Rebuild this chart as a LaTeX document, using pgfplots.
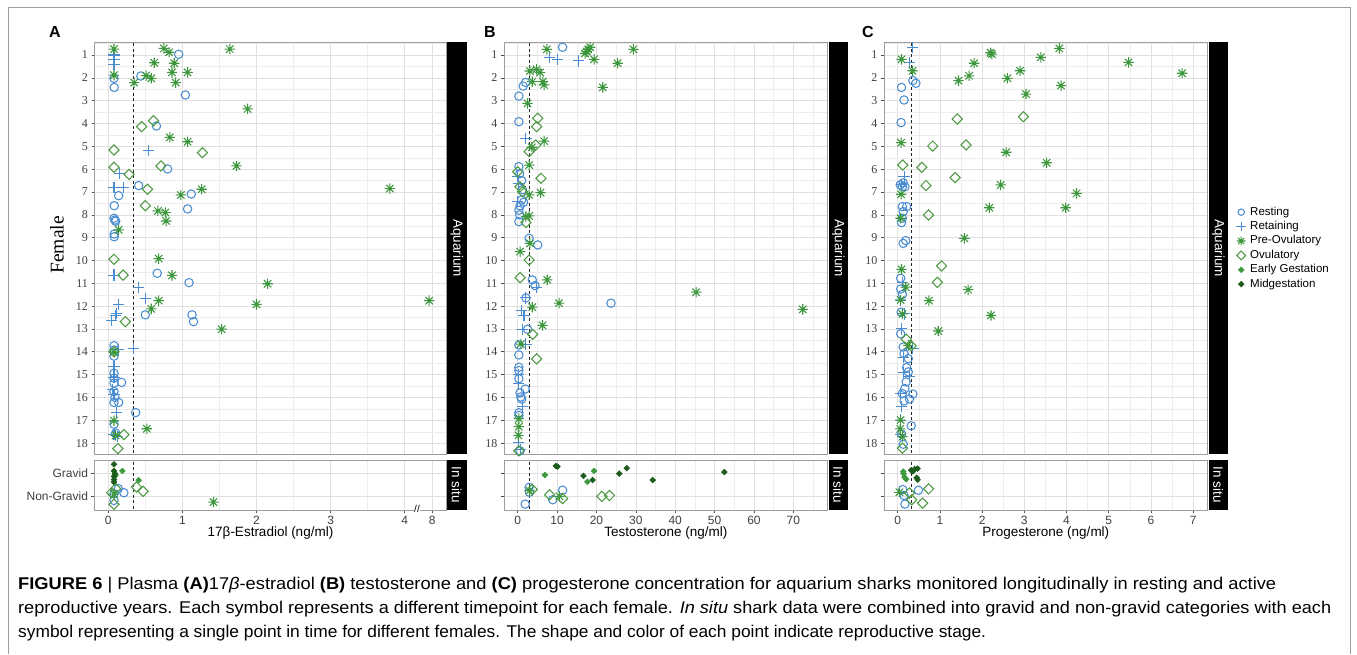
\documentclass[border=0pt]{standalone}
\usepackage{pgfplots}
\pgfplotsset{compat=1.18}
\usepackage{fontspec}
\usepackage{graphicx}
\setmainfont{Liberation Sans}
\newfontfamily\serifA{Liberation Serif}

\definecolor{cblue}{HTML}{4A8CD2}
\definecolor{cgreen}{HTML}{3C963C}
\definecolor{covu}{HTML}{4C9A40}
\definecolor{cearly}{HTML}{3E9A3E}
\definecolor{cmid}{HTML}{1E5C1E}
\definecolor{gridmaj}{gray}{0.88}
\definecolor{gridmin}{gray}{0.93}
\definecolor{framec}{gray}{0.62}
\definecolor{tickc}{gray}{0.3}

\pgfdeclareplotmark{ast8}{%
 \pgfpathmoveto{\pgfqpoint{0pt}{\pgfplotmarksize}}%
 \pgfpathlineto{\pgfqpoint{0pt}{-\pgfplotmarksize}}%
 \pgfpathmoveto{\pgfqpoint{\pgfplotmarksize}{0pt}}%
 \pgfpathlineto{\pgfqpoint{-\pgfplotmarksize}{0pt}}%
 \pgfpathmoveto{\pgfqpoint{0.7071\pgfplotmarksize}{0.7071\pgfplotmarksize}}%
 \pgfpathlineto{\pgfqpoint{-0.7071\pgfplotmarksize}{-0.7071\pgfplotmarksize}}%
 \pgfpathmoveto{\pgfqpoint{0.7071\pgfplotmarksize}{-0.7071\pgfplotmarksize}}%
 \pgfpathlineto{\pgfqpoint{-0.7071\pgfplotmarksize}{0.7071\pgfplotmarksize}}%
 \pgfusepathqstroke}
\pgfdeclareplotmark{rdiam}{%
 \pgfpathmoveto{\pgfqpoint{\pgfplotmarksize}{0pt}}%
 \pgfpathlineto{\pgfqpoint{0pt}{\pgfplotmarksize}}%
 \pgfpathlineto{\pgfqpoint{-\pgfplotmarksize}{0pt}}%
 \pgfpathlineto{\pgfqpoint{0pt}{-\pgfplotmarksize}}%
 \pgfpathclose\pgfusepathqstroke}
\pgfdeclareplotmark{rdiamf}{%
 \pgfpathmoveto{\pgfqpoint{\pgfplotmarksize}{0pt}}%
 \pgfpathlineto{\pgfqpoint{0pt}{\pgfplotmarksize}}%
 \pgfpathlineto{\pgfqpoint{-\pgfplotmarksize}{0pt}}%
 \pgfpathlineto{\pgfqpoint{0pt}{-\pgfplotmarksize}}%
 \pgfpathclose\pgfusepathqfillstroke}

\pgfplotsset{
 resting/.style={only marks, mark=o, mark size=4.2pt, mark options={line width=1.05pt}, color=cblue},
 retaining/.style={only marks, mark=+, mark size=5.6pt, mark options={line width=1.05pt}, color=cblue},
 preov/.style={only marks, mark=ast8, mark size=5.2pt, mark options={line width=1.05pt}, color=cgreen},
 ovu/.style={only marks, mark=rdiam, mark size=5.1pt, mark options={line width=1.05pt}, color=covu},
 early/.style={only marks, mark=rdiamf, mark size=2.9pt, mark options={line width=0.5pt}, color=cearly},
 midg/.style={only marks, mark=rdiamf, mark size=2.9pt, mark options={line width=0.5pt}, color=cmid},
 thr/.style={black!85, line width=0.7pt, dash pattern=on 3pt off 2.5pt, forget plot},
 base/.style={scale only axis, anchor=south west,
   axis line style={framec, line width=0.8pt},
   grid=both, major grid style={gridmaj, line width=0.6pt}, minor grid style={gridmin, line width=0.4pt},
   tick align=outside, tick style={tickc, line width=0.6pt}, major tick length=3pt, minor tick length=0pt,
   xtick pos=left, ytick pos=left,
   /pgf/number format/assume math mode=true,
   xticklabel style={font=\fontsize{12}{13}\selectfont, text=black!75},
   yticklabel style={font=\fontsize{12}{13}\selectfont, text=black!75},
   xlabel style={font=\fontsize{13.5}{14}\selectfont, at={(axis description cs:0.5,-0.46)}, anchor=center}},
 aq/.style={base, height=411.5pt, ymin=0.452, ymax=18.477, y dir=reverse,
   ytick={1,...,18}, minor ytick={0.5,1.5,...,18.5},
   yticklabel style={font=\serifA\fontsize{12}{13}\selectfont, text=black!75},
   xticklabels={}, xtick style={draw=none}},
 ins/.style={base, height=50pt, ymin=0.4, ymax=2.6, y dir=reverse, ytick={1,2}},
}

\begin{document}
\begin{tikzpicture}
\path[use as bounding box] (0pt,0pt) rectangle (1357pt,654pt);
\fill[white] (0pt,0pt) rectangle (1357pt,654pt);
\draw[framec, line width=0.8pt] (8pt,0pt) -- (8pt,647pt) -- (1350pt,647pt) -- (1350pt,0pt);

% ================= Panel A =================
\begin{axis}[aq, at={(94.5pt,200pt)}, width=352pt, xmin=-0.186, xmax=4.564,
  xtick={0,1,2,3,4,4.37}, minor xtick={0.5,1.5,2.5,3.5},
  ylabel={Female}, ylabel style={font=\serifA\fontsize{19.5}{20}\selectfont, at={(axis description cs:-0.1065,0.508)}, anchor=center}]
\addplot[resting] coordinates {(0.95,0.97) (0.077,2.02) (0.44,1.92) (0.08,2.42) (1.04,2.75) (0.65,4.11) (0.80,5.99) (0.41,6.72) (0.14,7.16) (1.12,7.09) (0.08,7.6) (1.07,7.74) (0.077,8.15) (0.09,8.23) (0.10,8.28) (0.08,8.84) (0.08,8.96) (0.66,10.56) (1.09,10.97) (0.50,12.38) (1.13,12.38) (1.15,12.68) (0.077,13.73) (0.077,13.92) (0.077,14.19) (0.077,14.94) (0.077,15.15) (0.077,15.37) (0.18,15.34) (0.077,15.74) (0.09,16.0) (0.077,16.22) (0.14,16.22) (0.37,16.66) (0.077,17.17) (0.10,17.56)};
\addplot[retaining] coordinates {(0.077,1.0) (0.077,1.19) (0.077,1.41) (0.54,5.19) (0.15,6.18) (0.077,6.81) (0.21,6.81) (0.077,10.64) (0.41,11.18) (0.50,11.66) (0.14,11.92) (0.11,12.31) (0.10,12.41) (0.045,12.63) (0.14,13.92) (0.34,13.84) (0.077,14.64) (0.077,15.13) (0.06,15.64) (0.077,15.88) (0.11,16.66) (0.077,17.63) (0.12,17.71)};
% the point at 4.33 stands for 7.9 ng/ml beyond the axis break
\addplot[preov] coordinates {(0.077,0.74) (0.75,0.71) (0.82,0.88) (1.64,0.74) (0.62,1.34) (0.89,1.36) (0.86,1.76) (1.07,1.76) (0.077,1.88) (0.51,1.9) (0.58,2.02) (0.35,2.21) (0.91,2.21) (1.88,3.36) (0.83,4.61) (1.07,4.8) (1.73,5.86) (1.26,6.88) (3.80,6.85) (0.98,7.13) (0.67,7.83) (0.77,7.9) (0.78,8.27) (0.14,8.66) (0.68,9.92) (0.86,10.65) (2.15,11.02) (0.68,11.76) (0.58,12.12) (2.0,11.92) (4.33,11.76) (1.53,13.01) (0.077,14.02) (0.077,17.02) (0.52,17.37) (0.10,17.66)};
\addplot[ovu] coordinates {(0.61,3.88) (0.45,4.14) (0.077,5.16) (1.27,5.28) (0.077,5.92) (0.71,5.86) (0.28,6.23) (0.53,6.88) (0.50,7.6) (0.077,9.95) (0.20,10.64) (0.23,12.68) (0.21,17.63) (0.13,18.24) (0.077,14.0)};
\addplot[thr] coordinates {(0.337,0) (0.337,19)};
\end{axis}
\begin{axis}[ins, at={(94.5pt,144pt)}, width=352pt, xmin=-0.186, xmax=4.564,
  xtick={0,1,2,3,4,4.37}, xticklabels={0,1,2,3,4,8}, minor xtick={0.5,1.5,2.5,3.5},
  yticklabels={Gravid,Non-Gravid}, xlabel={17β-Estradiol (ng/ml)}]
\addplot[resting] coordinates {(0.135,1.66) (0.21,1.84) (0.077,1.88) (0.077,2.18)};
\addplot[preov] coordinates {(1.42,2.25) (0.077,1.9)};
\addplot[ovu] coordinates {(0.38,1.59) (0.47,1.78) (0.045,1.84) (0.077,2.35) (0.10,1.66)};
\addplot[early] coordinates {(0.19,0.88) (0.41,1.29) (0.10,1.07)};
\addplot[midg] coordinates {(0.077,0.59) (0.077,0.88) (0.077,1.12) (0.077,1.26) (0.077,1.37) (0.09,1.0)};
\addplot[thr] coordinates {(0.337,0) (0.337,3)};
\end{axis}
\node[font=\fontsize{10}{11}\selectfont, inner sep=0.5pt, fill=white] at (417pt,145pt) {//};
\fill[black] (447pt,200pt) rectangle (466.5pt,611.5pt);
\node[rotate=-90, white, font=\fontsize{13.5}{14}\selectfont] at (456.75pt,405.75pt) {Aquarium};
\fill[black] (447pt,144pt) rectangle (466.5pt,194pt);
\node[rotate=-90, white, font=\fontsize{13.5}{14}\selectfont] at (456.75pt,169pt) {In situ};
\node[font=\bfseries\fontsize{16}{17}\selectfont] at (55pt,622pt) {A};

% ================= Panel B =================
\begin{axis}[aq, at={(504pt,200pt)}, width=323.7pt, xmin=-3.48, xmax=78.74,
  xtick={0,10,...,70}, minor xtick={5,15,...,75}]
\addplot[resting] coordinates {(11.4,0.66) (2.0,2.2) (1.4,2.36) (0.3,2.8) (0.3,3.92) (0.3,5.89) (0.5,6.2) (1.0,6.5) (1.2,6.9) (1.0,7.35) (1.5,7.45) (0.6,7.6) (0.3,7.8) (0.5,8.0) (0.3,8.3) (2.9,9.03) (5.1,9.32) (3.7,10.85) (4.4,11.1) (2.1,11.64) (23.7,11.87) (2.5,13.01) (0.3,13.7) (0.3,14.14) (0.3,14.68) (0.3,14.82) (0.3,15.18) (1.9,15.63) (0.6,15.8) (0.8,15.98) (1.0,16.07) (0.3,16.67) (0.3,16.79) (0.6,18.34)};
\addplot[retaining] coordinates {(8.0,1.1) (10.1,1.19) (15.4,1.26) (2.1,4.65) (0,6.33) (0.2,6.62) (0,7.42) (4.8,11.2) (1.9,11.64) (1.0,12.19) (1.6,12.4) (1.2,13.01) (2.1,13.66) (0.3,15.0) (0.3,15.37) (1.3,16.38) (0.3,17.97) (0.6,18.29)};
\addplot[preov] coordinates {(7.4,0.75) (17.5,0.85) (17.9,0.75) (18.4,0.66) (17.1,0.93) (29.4,0.75) (19.4,1.19) (25.4,1.36) (3.1,1.70) (4.8,1.63) (5.7,1.77) (3.7,2.17) (6.4,2.17) (6.7,2.31) (21.6,2.42) (2.5,3.12) (6.7,4.77) (3.6,5.04) (2.9,5.82) (5.8,7.03) (2.9,7.13) (2.9,8.05) (2.1,8.08) (3.1,9.25) (0.6,9.61) (7.5,10.85) (45.3,11.39) (10.5,11.87) (72.4,12.14) (3.7,12.04) (6.3,12.84) (0.8,13.66) (0.3,16.93) (0.3,17.28) (0.2,17.66)};
\addplot[ovu] coordinates {(5.1,3.77) (4.8,4.14) (4.6,4.94) (2.9,5.23) (0,6.11) (5.9,6.4) (0.6,6.77) (1.2,6.99) (2.1,8.34) (2.9,9.98) (0.6,10.75) (3.8,13.24) (4.8,14.31) (0.3,18.34)};
\addplot[thr] coordinates {(2.95,0) (2.95,19)};
\end{axis}
\begin{axis}[ins, at={(504pt,144pt)}, width=323.7pt, xmin=-3.48, xmax=78.74,
  xtick={0,10,...,70}, minor xtick={5,15,...,75}, yticklabels={,}, xlabel={Testosterone (ng/ml)}]
\addplot[resting] coordinates {(2.9,1.6) (3.0,1.82) (11.4,1.73) (8.9,2.15) (1.9,2.34)};
\addplot[preov] coordinates {(3.0,1.75) (10.6,2.0)};
\addplot[ovu] coordinates {(3.7,1.7) (8.1,1.93) (11.4,2.1) (21.4,2.0) (23.3,1.96)};
\addplot[early] coordinates {(6.9,1.06) (17.7,1.36) (19.4,0.88)};
\addplot[midg] coordinates {(9.7,0.66) (10.1,0.69) (16.7,1.1) (19.0,1.28) (25.8,1.0) (27.7,0.76) (34.3,1.28) (52.5,0.93)};
\addplot[thr] coordinates {(2.95,0) (2.95,3)};
\end{axis}
\fill[black] (828.5pt,200pt) rectangle (848pt,611.5pt);
\node[rotate=-90, white, font=\fontsize{13.5}{14}\selectfont] at (838.25pt,405.75pt) {Aquarium};
\fill[black] (828.5pt,144pt) rectangle (848pt,194pt);
\node[rotate=-90, white, font=\fontsize{13.5}{14}\selectfont] at (838.25pt,169pt) {In situ};
\node[font=\bfseries\fontsize{16}{17}\selectfont] at (490pt,622pt) {B};

% ================= Panel C =================
\begin{axis}[aq, at={(884pt,200pt)}, width=323.7pt, xmin=-0.325, xmax=7.346,
  xtick={0,...,7}, minor xtick={0.5,1.5,...,6.5}]
\addplot[resting] coordinates {(0.36,2.12) (0.43,2.24) (0.09,2.42) (0.15,2.97) (0.08,3.96) (0.06,6.69) (0.11,6.77) (0.17,6.77) (0.13,6.6) (0.21,7.64) (0.11,7.64) (0.13,7.86) (0.09,8.34) (0.11,8.15) (0.19,9.13) (0.13,9.25) (0.07,10.78) (0.07,11.25) (0.11,11.49) (0.08,12.27) (0.07,13.21) (0.13,13.79) (0.15,14.08) (0.25,14.3) (0.21,14.69) (0.25,14.88) (0.2,15.32) (0.17,15.61) (0.36,15.85) (0.28,16.07) (0.15,16.15) (0.11,15.83) (0.32,17.24) (0.09,17.6) (0.13,18.05)};
\addplot[retaining] coordinates {(0.35,0.66) (0.28,1.32) (0.15,6.33) (0.08,6.69) (0.11,10.96) (0.07,11.76) (0.15,12.34) (0.09,13.0) (0.36,13.86) (0.13,14.25) (0.13,14.91) (0.28,15.09) (0.07,15.83) (0.09,16.41) (0.07,16.99) (0.07,17.64)};
\addplot[preov] coordinates {(0.09,1.19) (0.35,1.69) (2.20,0.9) (2.23,0.96) (3.83,0.71) (3.39,1.1) (1.81,1.36) (2.90,1.69) (1.69,1.91) (1.44,2.12) (2.60,2.02) (3.87,2.34) (5.47,1.32) (6.74,1.8) (3.04,2.71) (0.08,4.84) (2.57,5.26) (3.53,5.72) (2.44,6.69) (0.08,7.1) (4.24,7.06) (2.17,7.69) (3.98,7.69) (0.07,8.15) (1.58,9.03) (0.09,10.39) (0.19,11.17) (1.67,11.28) (0.74,11.76) (0.07,11.73) (0.11,12.34) (2.21,12.41) (0.96,13.09) (0.25,13.72) (0.07,16.99) (0.06,17.38) (0.11,17.72)};
\addplot[ovu] coordinates {(1.41,3.8) (2.98,3.7) (0.83,4.99) (1.62,4.94) (0.12,5.82) (0.57,5.92) (1.36,6.37) (0.67,6.72) (0.73,8.01) (1.04,10.24) (0.94,10.96) (0.2,13.45) (0.32,13.74) (0.11,18.22)};
\addplot[thr] coordinates {(0.315,0) (0.315,19)};
\end{axis}
\begin{axis}[ins, at={(884pt,144pt)}, width=323.7pt, xmin=-0.325, xmax=7.346,
  xtick={0,...,7}, minor xtick={0.5,1.5,...,6.5}, yticklabels={,}, xlabel={Progesterone (ng/ml)}]
\addplot[resting] coordinates {(0.12,1.7) (0.49,1.73) (0.15,1.96) (0.17,2.34)};
\addplot[preov] coordinates {(0.04,1.82)};
\addplot[ovu] coordinates {(0.73,1.67) (0.28,1.85) (0.33,2.15) (0.59,2.3)};
\addplot[early] coordinates {(0.13,0.91) (0.16,1.15) (0.2,1.25) (0.14,1.0)};
\addplot[midg] coordinates {(0.32,0.85) (0.40,0.8) (0.47,0.78) (0.45,1.18) (0.47,1.27) (0.36,0.9)};
\addplot[thr] coordinates {(0.315,0) (0.315,3)};
\end{axis}
\fill[black] (1208.5pt,200pt) rectangle (1228pt,611.5pt);
\node[rotate=-90, white, font=\fontsize{13.5}{14}\selectfont] at (1218.25pt,405.75pt) {Aquarium};
\fill[black] (1208.5pt,144pt) rectangle (1228pt,194pt);
\node[rotate=-90, white, font=\fontsize{13.5}{14}\selectfont] at (1218.25pt,169pt) {In situ};
\node[font=\bfseries\fontsize{16}{17}\selectfont] at (868pt,622pt) {C};

% ================= Legend =================
\begin{axis}[hide axis, scale only axis, width=1pt, height=1pt, anchor=south west, at={(1232pt,451pt)},
  xmin=0, xmax=1, ymin=0, ymax=1,
  legend style={at={(0,0)}, anchor=north west, draw=none, fill=none, font=\fontsize{11.5}{12}\selectfont,
    row sep=0.4pt, column sep=1.5pt, nodes={inner sep=1.5pt, text height=8.5pt, text depth=2.5pt}},
  legend cell align=left,
  legend image code/.code={\path[draw=none,fill=none] (-6pt,-1pt) rectangle (6pt,1pt); \draw[#1] plot coordinates {(0pt,0pt)};}]
\addlegendimage{resting, mark size=3.2pt}
\addlegendimage{retaining, mark size=4.8pt}
\addlegendimage{preov, mark size=4.4pt}
\addlegendimage{ovu, mark size=4.4pt}
\addlegendimage{early}
\addlegendimage{midg}
\legend{Resting,Retaining,Pre-Ovulatory,Ovulatory,Early Gestation,Midgestation}
\end{axis}

% ================= Caption =================
\node[anchor=base west, inner sep=0pt] at (18pt,65pt) {\resizebox{1258pt}{\height}{\fontsize{17}{20}\selectfont\textbf{FIGURE 6} | Plasma \textbf{(A)}17\textit{β}-estradiol \textbf{(B)} testosterone and \textbf{(C)} progesterone concentration for aquarium sharks monitored longitudinally in resting and active}};
\node[anchor=base west, inner sep=0pt] at (18pt,41pt) {\resizebox{1313pt}{\height}{\fontsize{17}{20}\selectfont reproductive years. Each symbol represents a different timepoint for each female. \textit{In situ} shark data were combined into gravid and non-gravid categories with each}};
\node[anchor=base west, inner sep=0pt] at (18pt,17pt) {\resizebox{968pt}{\height}{\fontsize{17}{20}\selectfont symbol representing a single point in time for different females. The shape and color of each point indicate reproductive stage.}};
\end{tikzpicture}
\end{document}
